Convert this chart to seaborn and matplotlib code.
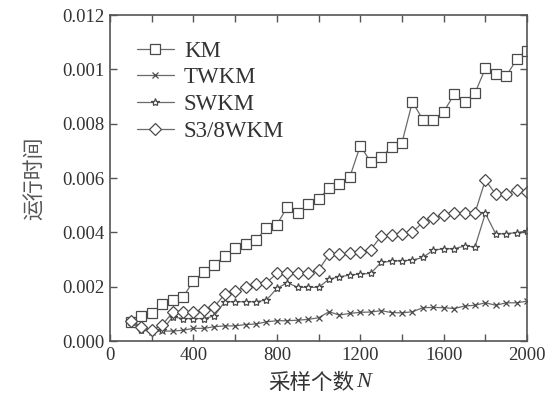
import matplotlib
matplotlib.use("Agg")
import matplotlib.pyplot as plt
import seaborn as sns
import pandas as pd
import numpy as np

# sample counts
n_samples = list(range(100, 2001, 50))

km = [0.00071, 0.00093, 0.00104, 0.00136, 0.00153, 0.00162, 0.00222, 0.00253, 0.00281, 0.00313,
      0.00341, 0.00356, 0.00373, 0.00415, 0.00429, 0.00494, 0.00472, 0.00504, 0.00524, 0.00562,
      0.00580, 0.00605, 0.00719, 0.00660, 0.00678, 0.00713, 0.00731, 0.00881, 0.00815, 0.00815,
      0.00844, 0.00908, 0.00879, 0.00913, 0.01004, 0.00985, 0.00976, 0.01037, 0.01067]
twkm = [0.00070, 0.00047, 0.00035, 0.00037, 0.00037, 0.00040, 0.00047, 0.00047, 0.00053, 0.00056,
        0.00056, 0.00061, 0.00063, 0.00071, 0.00075, 0.00075, 0.00077, 0.00080, 0.00086, 0.00108,
        0.00096, 0.00102, 0.00106, 0.00107, 0.00112, 0.00105, 0.00104, 0.00108, 0.00123, 0.00124,
        0.00123, 0.00120, 0.00129, 0.00132, 0.00141, 0.00132, 0.00141, 0.00141, 0.00147]
swkm = [0.00071, 0.00040, 0.00037, 0.00040, 0.00089, 0.00083, 0.00083, 0.00083, 0.00093, 0.00145,
        0.00145, 0.00145, 0.00145, 0.00151, 0.00194, 0.00215, 0.00198, 0.00198, 0.00198, 0.00228,
        0.00237, 0.00243, 0.00247, 0.00249, 0.00290, 0.00294, 0.00296, 0.00298, 0.00308, 0.00335,
        0.00340, 0.00340, 0.00350, 0.00347, 0.00470, 0.00394, 0.00396, 0.00399, 0.00406]
s38wkm = [0.00075, 0.00053, 0.00040, 0.00059, 0.00106, 0.00108, 0.00108, 0.00114, 0.00126, 0.00173,
          0.00185, 0.00199, 0.00210, 0.00215, 0.00249, 0.00249, 0.00252, 0.00252, 0.00261, 0.00319,
          0.00320, 0.00323, 0.00329, 0.00337, 0.00386, 0.00391, 0.00393, 0.00402, 0.00437, 0.00455,
          0.00464, 0.00470, 0.00472, 0.00472, 0.00593, 0.00540, 0.00541, 0.00558, 0.00550]

series_names = ["KM", "TWKM", "SWKM", "S3/8WKM"]
series_values = [km, twkm, swkm, s38wkm]
marker_list = ["s", "x", "*", "D"]
marker_sizes = [7, 4, 6, 6.5]

x_ticks = [0, 400, 800, 1200, 1600, 2000]
y_ticks = [0.000, 0.002, 0.004, 0.006, 0.008, 0.010, 0.012]
y_tick_labels = ["0.000", "0.002", "0.004", "0.006", "0.008", "0.001", "0.012"]

df = pd.DataFrame({"N": n_samples * 4,
                   "time": [v for s in series_values for v in s],
                   "method": [name for name in series_names for _ in n_samples]})

sns.set_style("ticks")
plt.rcParams["font.family"] = ["Liberation Serif", "Noto Sans CJK SC"]

fig = plt.figure(figsize=(5.56, 4.09), dpi=100)
ax = fig.add_axes([0.198, 0.166, 0.750, 0.797])

line_col = "#6a6a6a"
edge_col = "#4a4a4a"
for name, mk, ms in zip(series_names, marker_list, marker_sizes):
    sub = df[df["method"] == name]
    sns.lineplot(data=sub, x="N", y="time", ax=ax, color=line_col, lw=0.9,
                 marker=mk, markersize=ms, markerfacecolor="white",
                 markeredgecolor=edge_col, markeredgewidth=0.9, label=name)

ax.set_xlim(0, 2000)
ax.set_ylim(0, 0.012)
ax.set_xticks(x_ticks)
ax.set_xticks(range(0, 2001, 200), minor=True)
ax.set_yticks(y_ticks)
ax.set_yticklabels(y_tick_labels)
ax.tick_params(which="both", direction="in", top=True, right=True, length=5,
               width=1, color="#555555", labelsize=13.5, labelcolor="#333333", pad=4)
for sp in ax.spines.values():
    sp.set_color("#555555")
    sp.set_linewidth(1.2)

ax.set_xlabel("")
ax.set_ylabel("运行时间", fontsize=15, color="#555555", labelpad=12,
              family=["Noto Sans CJK SC"])

# x label: CJK text followed by an italic N
t1 = fig.text(0.0, 0.064, "采样个数", fontsize=15.5, color="#333333",
              family=["Noto Sans CJK SC"], va="center", ha="left")
t2 = fig.text(0.0, 0.064, "N", fontsize=16, color="#333333", style="italic",
              family=["Liberation Serif"], va="center", ha="left")
fig.canvas.draw()
r = fig.canvas.get_renderer()
w1 = t1.get_window_extent(r).width / fig.bbox.width
w2 = t2.get_window_extent(r).width / fig.bbox.width
x0 = 0.574 - (w1 + w2) / 2
t1.set_x(x0)
t2.set_x(x0 + w1 + 0.003)

leg = ax.legend(loc="upper left", bbox_to_anchor=(0.015, 0.985), frameon=False,
                fontsize=16.5, handlelength=1.6, labelspacing=0.25, handletextpad=0.45,
                labelcolor="#333333")

plt.savefig("out.png", dpi=100)
